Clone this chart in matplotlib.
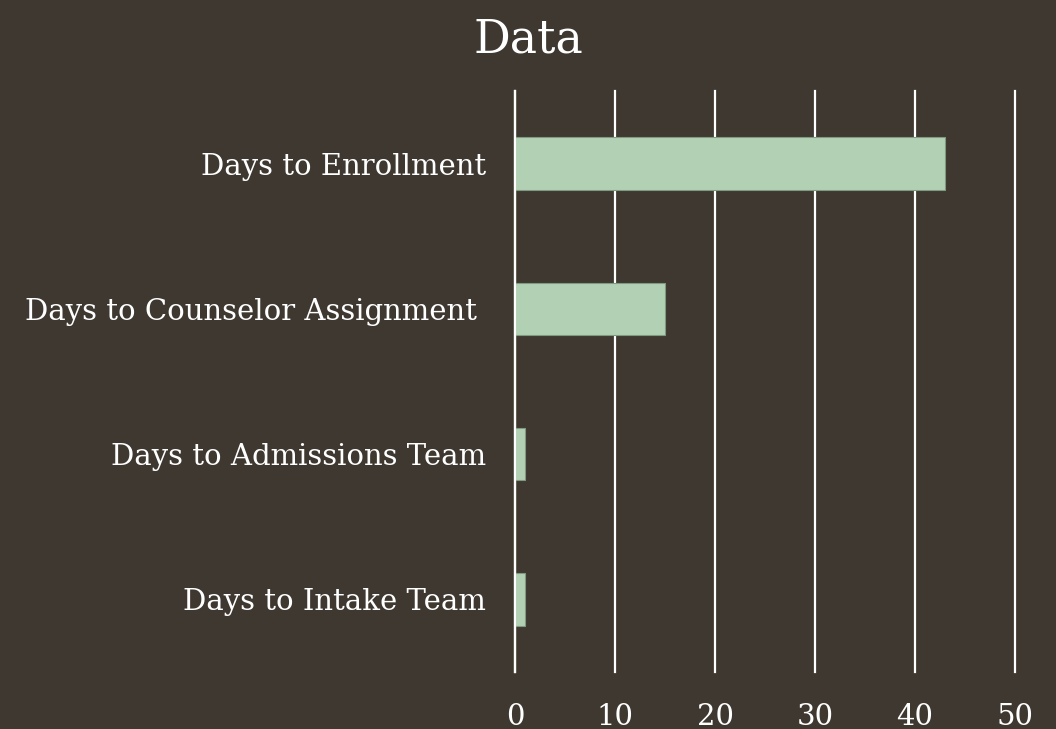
import matplotlib.pyplot as plt

# values
categories = ["Days to Intake Team", "Days to Admissions Team",
              "Days to Counselor Assignment ", "Days to Enrollment"]
days = [1, 1, 15, 43]
ticks = [0, 10, 20, 30, 40, 50]

bg = "#3e3830"
bar_color = "#b2d1b4"

plt.rcParams['font.family'] = ['DejaVu Serif']

fig = plt.figure(figsize=(10.56, 7.29), dpi=100, facecolor=bg)
ax = fig.add_axes([0.4877, 0.0782, 0.4735, 0.797])
ax.set_facecolor(bg)

ax.barh(range(len(categories)), days, height=0.36, color=bar_color,
        edgecolor="#7f9a80", linewidth=0.8, zorder=3)

ax.set_xlim(0, 50)
ax.set_ylim(-0.5, len(categories) - 0.5)
ax.set_xticks(ticks)
ax.set_yticks(range(len(categories)))
ax.set_yticklabels(categories)
ax.grid(axis="x", color="white", linewidth=1.6, zorder=0)
ax.set_axisbelow(True)
for line in ax.get_xgridlines():
    line.set_clip_on(False)
for s in ax.spines.values():
    s.set_visible(False)
# zero line sits on top of the bars
ax.spines["left"].set_visible(True)
ax.spines["left"].set_color("white")
ax.spines["left"].set_linewidth(1.6)
ax.spines["left"].set_zorder(4)
ax.tick_params(axis="x", length=0, pad=22, labelsize=21, labelcolor="white")
ax.tick_params(axis="y", length=0, pad=21, labelsize=21, labelcolor="white")

fig.text(0.5, 0.945, "Data", ha="center", va="center", fontsize=33, color="white")

plt.savefig("out.png", dpi=100, facecolor=bg)
